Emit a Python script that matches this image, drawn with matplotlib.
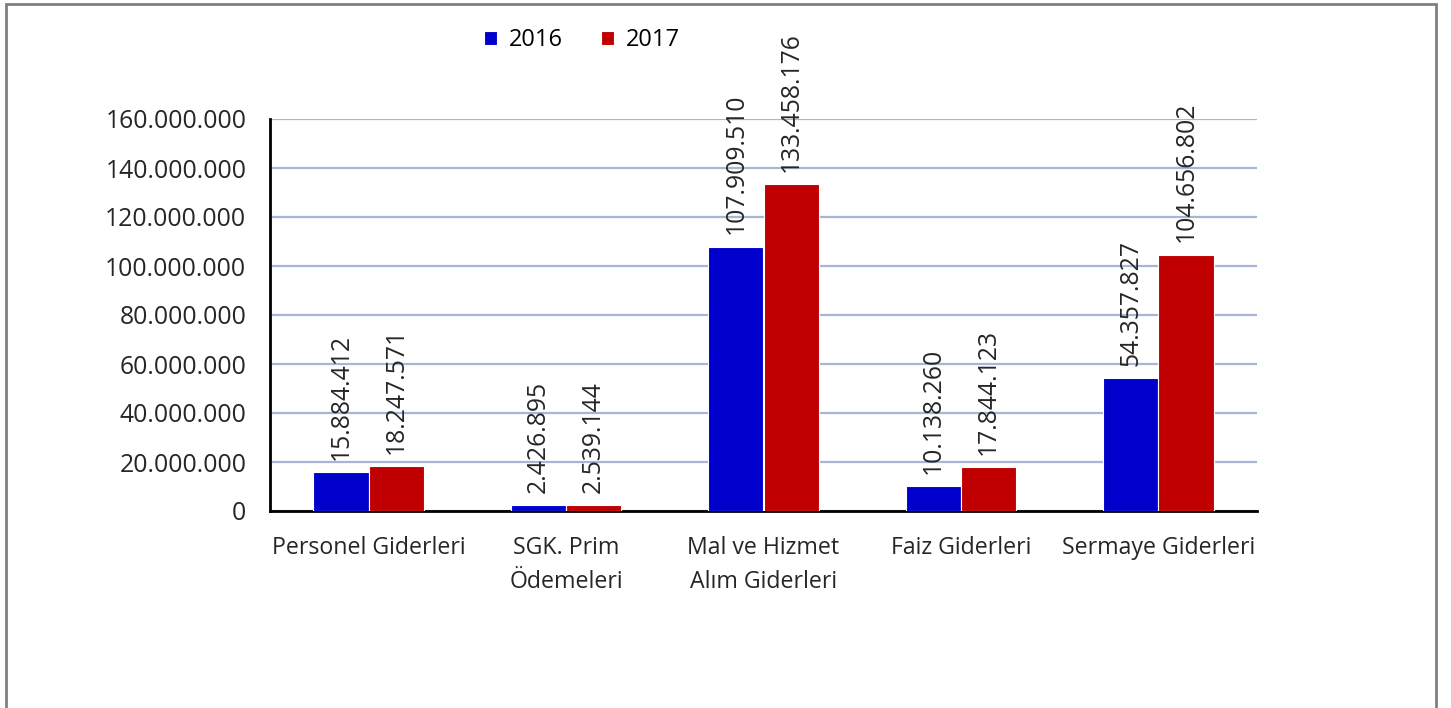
import matplotlib
matplotlib.use("Agg")
import matplotlib.pyplot as plt
from matplotlib.patches import Rectangle
import numpy as np

categories = ["Personel Giderleri", "SGK. Prim\nÖdemeleri", "Mal ve Hizmet\nAlım Giderleri",
              "Faiz Giderleri", "Sermaye Giderleri"]
v2016 = [15884412, 2426895, 107909510, 10138260, 54357827]
v2017 = [18247571, 2539144, 133458176, 17844123, 104656802]
yticks = [0, 20e6, 40e6, 60e6, 80e6, 100e6, 120e6, 140e6, 160e6]

BLUE = "#0000CC"; RED = "#C00000"; GRID = "#A8B6D6"; TXT = "#262626"

def fmt(v):
    return f"{int(v):,}".replace(",", ".")

plt.rcParams["font.family"] = ["Open Sans", "DejaVu Sans"]
fig = plt.figure(figsize=(14.51, 7.08), dpi=100)
fig.patches.append(Rectangle((6/1451, -0.1), 1430/1451, 1.1 - 4/708, transform=fig.transFigure,
                             fill=False, edgecolor="#808080", lw=2))
ax = fig.add_axes([270/1451, 1 - 511/708, 987/1451, 392/708])

x = np.arange(len(categories))
w = 0.28
b1 = ax.bar(x - w/2, v2016, w, color=BLUE, edgecolor="white", lw=0.8, label="2016", zorder=3)
b2 = ax.bar(x + w/2, v2017, w, color=RED, edgecolor="white", lw=0.8, label="2017", zorder=3)
for bars in (b1, b2):
    for r in bars:
        ax.text(r.get_x() + r.get_width()/2, r.get_height() + 5e6, fmt(r.get_height()),
                rotation=90, ha="center", va="bottom", fontsize=17.8, color=TXT)

ax.set_xlim(-0.5, len(categories) - 0.5)
ax.set_ylim(0, 160e6)
ax.set_yticks(yticks)
ax.set_yticklabels([fmt(t) for t in yticks], fontsize=17.8, color=TXT)
ax.set_xticks(x)
ax.set_xticklabels(categories, fontsize=16.7, color=TXT, linespacing=1.55)
ax.tick_params(axis="y", length=0, pad=17)
ax.tick_params(axis="x", length=0, pad=18)
ax.yaxis.grid(True, color=GRID, lw=1.6, zorder=0)
for s in ("top", "right"):
    ax.spines[s].set_visible(False)
ax.spines["left"].set_linewidth(2)
ax.spines["bottom"].set_linewidth(2)
ax.spines["left"].set_color("black")
ax.spines["bottom"].set_color("black")

fig.legend(loc="center", bbox_to_anchor=(582/1451, 1 - 40/708), ncol=2, frameon=False,
           fontsize=17, handlelength=0.55, handleheight=0.55, columnspacing=1.6, handletextpad=0.5)
fig.savefig("out.png", dpi=100)
